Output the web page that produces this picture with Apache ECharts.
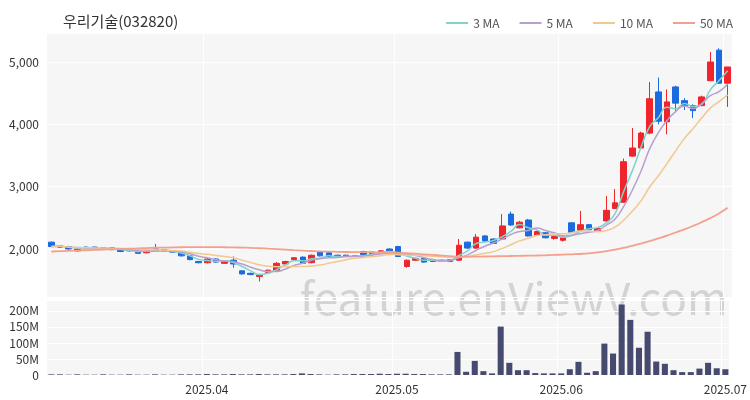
<!DOCTYPE html>
<html><head><meta charset="utf-8">
<script src="https://cdn.jsdelivr.net/npm/echarts@6/dist/echarts.min.js"></script>
<style>html,body{margin:0;padding:0;background:#fff}#c{width:750px;height:400px}</style>
</head><body><div id="c"></div>
<script>
const title = '우리기술(032820)';
const dates = [];
(function(){ // Korean trading days 2025-03-06 .. 2025-07-01
  const hol = ['2025-05-01','2025-05-05','2025-05-06','2025-06-03','2025-06-06'];
  let d = new Date(Date.UTC(2025,2,6));
  const end = new Date(Date.UTC(2025,6,1));
  while (d <= end) {
    const s = d.toISOString().slice(0,10);
    const w = d.getUTCDay();
    if (w !== 0 && w !== 6 && hol.indexOf(s) < 0) dates.push(s);
    d = new Date(d.getTime() + 86400000);
  }
})();
const opens  = [2110,2030,2040,1970,2030,2030,2000,2020,2000,1970,1980,1940,2000,1990,1970,1950,1890,1800,1780,1840,1770,1820,1650,1610,1560,1620,1660,1760,1830,1870,1780,1960,1940,1900,1900,1880,1960,1920,1950,2000,2040,1720,1820,1850,1800,1820,1800,1820,2110,2015,2210,2160,2160,2560,2340,2465,2220,2260,2170,2140,2420,2300,2390,2290,2450,2650,2750,3490,3620,3860,4520,4040,4600,4380,4300,4300,4700,5190,4660];
const closes = [2040,2050,2000,2000,2010,2000,2020,1990,1960,1990,1930,1980,1980,1970,1950,1890,1830,1780,1840,1790,1800,1760,1600,1590,1580,1660,1770,1800,1860,1770,1900,1890,1880,1870,1880,1890,1910,1950,1970,1960,1880,1820,1850,1790,1820,1800,1830,2060,2015,2190,2130,2090,2370,2385,2430,2210,2280,2180,2200,2180,2270,2390,2310,2330,2620,2740,3400,3620,3860,4410,4050,4360,4340,4300,4220,4440,5000,4660,4920];
const highs  = [2120,2060,2050,2010,2040,2040,2030,2030,2010,2000,1990,1990,2080,2000,1980,1960,1900,1810,1850,1850,1810,1880,1660,1620,1600,1670,1790,1810,1870,1880,1910,1970,1950,1910,1910,1900,1970,1960,1980,2010,2050,1830,1860,1860,1830,1830,1840,2160,2120,2240,2220,2170,2560,2600,2450,2480,2290,2270,2230,2220,2430,2610,2400,2350,2850,2960,3450,3940,3880,4680,4750,4560,4620,4420,4320,4460,5160,5220,4920];
const lows   = [2030,2020,1990,1960,2000,1990,1990,1980,1950,1960,1920,1930,1970,1960,1940,1880,1820,1770,1770,1780,1760,1700,1590,1580,1480,1610,1650,1750,1820,1760,1770,1880,1870,1860,1870,1870,1900,1910,1940,1950,1870,1700,1810,1780,1790,1790,1790,1810,2000,2000,2110,2080,2150,2370,2330,2200,2210,2170,2150,2120,2260,2290,2300,2280,2440,2640,2740,3480,3600,3840,4000,3840,4200,4230,4100,4290,4700,4650,4280];
const volumes = [2,2,1,2,1,1,2,1,1,2,1,1,2,1,1,2,2,2,3,2,2,3,2,2,3,2,2,2,3,5,3,2,1,2,2,3,3,3,4,3,4,4,3,3,2,2,2,72,10,44,12,5,151,38,15,15,6,5,5,5,18,41,7,12,98,67,220,172,85,135,42,35,15,9,9,20,38,21,18];
const ma50 = [1960,1965,1970,1975,1980,1985,1990,1995,2000,2005,2010,2015,2020,2022,2025,2028,2030,2030,2030,2030,2028,2026,2022,2018,2012,2005,1998,1990,1982,1975,1968,1962,1958,1955,1952,1950,1950,1948,1946,1944,1940,1932,1925,1915,1905,1895,1885,1875,1875,1878,1880,1882,1885,1888,1890,1893,1896,1900,1905,1910,1915,1920,1930,1945,1965,1990,2020,2050,2085,2125,2170,2215,2265,2315,2370,2430,2495,2570,2660];
const monthTicks = ['2025-04-01','2025-05-02','2025-06-02','2025-07-01'];
const priceTicks = [2000,3000,4000,5000];
const volTicks = [0,50,100,150,200];

function ma(n){ return closes.map((c,i)=>{const s=Math.max(0,i-n+1);let t=0;for(let j=s;j<=i;j++)t+=closes[j];return +(t/(i-s+1)).toFixed(1);}); }
const kdata = dates.map((d,i)=>[opens[i],closes[i],lows[i],highs[i]]);
const UP='#f0242b', DN='#1a6be0';
const font = 'Noto Sans CJK KR';
const chart = echarts.init(document.getElementById('c'));
const xa = (gi, show) => ({type:'category', gridIndex:gi, data:dates, boundaryGap:true,
  axisLine:{show:false}, axisTick:{show:false},
  axisLabel:{show:show, color:'#333', fontSize:12, fontFamily:font, interval:(i,v)=>monthTicks.indexOf(v)>=0, formatter:v=>v.slice(0,7).replace('-','.')},
  splitLine:{show:true, interval:(i,v)=>monthTicks.indexOf(v)>=0, lineStyle:{color:'#ffffff', width:1}}});
chart.setOption({
  animation:false,
  textStyle:{fontFamily:font},
  title:{text:title, left:58, top:9, textStyle:{fontSize:15, fontWeight:'normal', color:'#333', fontFamily:font}},
  legend:{right:12, top:12, itemWidth:22, itemHeight:2, itemGap:20, icon:'rect', textStyle:{color:'#555', fontSize:12},
    data:['3 MA','5 MA','10 MA','50 MA']},
  graphic:[{type:'text', left:300, top:276, z:0, silent:true,
    style:{text:'feature.enViewV.com', fontSize:44, fill:'rgba(175,175,175,0.5)', fontFamily:font}}],
  grid:[{left:47, right:18, top:33, height:264, backgroundColor:'#f6f6f6', show:true, borderWidth:0},
        {left:47, right:18, top:300, height:75, backgroundColor:'#f6f6f6', show:true, borderWidth:0}],
  xAxis:[xa(0,false), xa(1,true)],
  yAxis:[{gridIndex:0, min:1230, max:5465, axisLine:{show:false}, axisTick:{show:false},
      axisLabel:{color:'#333', fontSize:12, customValues:priceTicks, formatter:v=>v.toLocaleString('en-US')},
      splitLine:{show:true, lineStyle:{color:'#ffffff'}}},
    {gridIndex:1, min:0, max:234, axisLine:{show:false}, axisTick:{show:false},
      axisLabel:{color:'#333', fontSize:12, customValues:volTicks, formatter:v=>v===0?'0':v+'M'},
      splitLine:{show:true, lineStyle:{color:'#ffffff'}}}],
  series:[
    {type:'candlestick', name:'price', data:kdata, barWidth:'70%', z:3,
      itemStyle:{color:UP, color0:DN, borderColor:UP, borderColor0:DN}},
    {type:'line', name:'3 MA', data:ma(3), symbol:'none', smooth:true, lineStyle:{width:1.5, color:'#7fd3cc'}, itemStyle:{color:'#7fd3cc'}, z:4},
    {type:'line', name:'5 MA', data:ma(5), symbol:'none', smooth:true, lineStyle:{width:1.5, color:'#b7a0cf'}, itemStyle:{color:'#b7a0cf'}, z:4},
    {type:'line', name:'10 MA', data:ma(10), symbol:'none', smooth:true, lineStyle:{width:1.5, color:'#f1c88e'}, itemStyle:{color:'#f1c88e'}, z:4},
    {type:'line', name:'50 MA', data:ma50, symbol:'none', smooth:true, lineStyle:{width:1.8, color:'#f4a08e'}, itemStyle:{color:'#f4a08e'}, z:4},
    {type:'bar', name:'volume', xAxisIndex:1, yAxisIndex:1, data:volumes, barWidth:'70%', itemStyle:{color:'#474a6f'}}
  ]
});
</script></body></html>
